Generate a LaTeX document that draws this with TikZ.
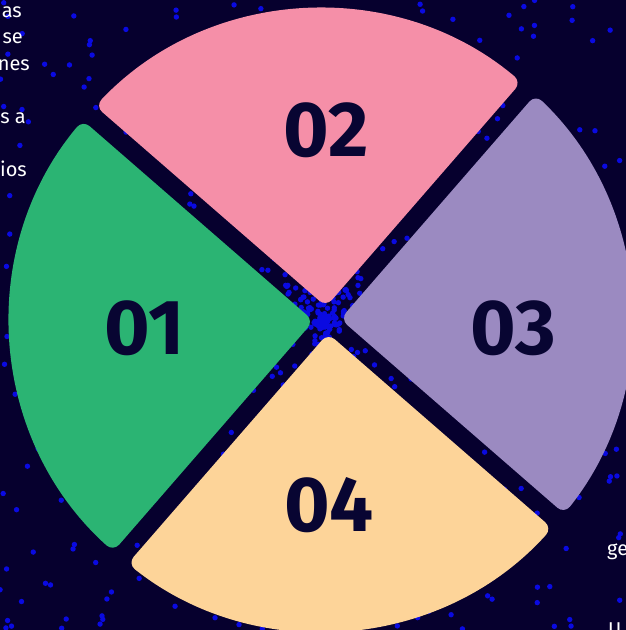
\documentclass[tikz,border=0pt]{standalone}
\usepackage{fontspec}
\setmainfont{Fira Sans}
\usetikzlibrary{calc}
\definecolor{bgc}{RGB}{6,0,46}
\definecolor{dotc}{RGB}{10,10,225}
\definecolor{greenc}{RGB}{43,180,115}
\definecolor{pinkc}{RGB}{245,143,168}
\definecolor{purplec}{RGB}{155,138,193}
\definecolor{yellowc}{RGB}{253,212,153}
\definecolor{numc}{RGB}{8,5,50}
\def\sOx{321}\def\sOy{310}\def\sR{311}
\def\sCx{327}\def\sCy{310}\def\sOff{13.4}
\newcommand\sectorfill[2]{%
 \pgfmathsetmacro\sAx{\sCx+\sOff*cos(#1)}%
 \pgfmathsetmacro\sAy{\sCy+\sOff*sin(#1)}%
 \pgfmathsetmacro\sDx{\sAx-\sOx}%
 \pgfmathsetmacro\sDy{\sAy-\sOy}%
 \pgfmathsetmacro\sDD{\sDx*\sDx+\sDy*\sDy}%
 \pgfmathsetmacro\sBa{\sDx*cos(#1-45)+\sDy*sin(#1-45)}%
 \pgfmathsetmacro\sTa{-\sBa+\sR*sqrt(1+(\sBa*\sBa-\sDD)/\sR/\sR)}%
 \pgfmathsetmacro\sAngA{atan2(\sAy+\sTa*sin(#1-45)-\sOy,\sAx+\sTa*cos(#1-45)-\sOx)}%
 \pgfmathsetmacro\sBb{\sDx*cos(#1+45)+\sDy*sin(#1+45)}%
 \pgfmathsetmacro\sTb{-\sBb+\sR*sqrt(1+(\sBb*\sBb-\sDD)/\sR/\sR)}%
 \pgfmathsetmacro\sAngB{atan2(\sAy+\sTb*sin(#1+45)-\sOy,\sAx+\sTb*cos(#1+45)-\sOx)}%
 \pgfmathsetmacro\sAngB{\sAngB<\sAngA ? \sAngB+360 : \sAngB}%
 \fill[#2,rounded corners=9pt] (\sAx,\sAy) -- ($(\sOx,\sOy)+(\sAngA:\sR pt)$)
   arc[start angle=\sAngA,end angle=\sAngB,radius=\sR pt] -- cycle;
}
\tikzset{
  numlabel/.style={text=numc,inner sep=0pt,font=\fontsize{78}{78}\selectfont\bfseries},
  sidetext/.style={text=white,inner sep=0pt,font=\fontsize{20}{24}\selectfont},
  dot/.style={fill=dotc}
}
\begin{document}
\begin{tikzpicture}[x=1pt,y=1pt]
\useasboundingbox (0,0) rectangle (626,630);
\fill[bgc] (0,0) rectangle (626,630);
\pgfmathsetseed{11}
\foreach \i in {1,...,400}{
  \pgfmathsetmacro\px{rnd*626}
  \pgfmathsetmacro\py{rnd*630}
  \fill[dot] (\px,\py) circle[radius=2.7pt];
}
\coordinate (C) at (\sCx,\sCy);
\foreach \i in {1,...,260}{
  \pgfmathsetmacro\rr{110*rnd^1.6}
  \pgfmathsetmacro\aa{rnd*360}
  \fill[dot] ($(C)+(\aa:\rr pt)$) circle[radius=2.7pt];
}
\sectorfill{94}{pinkc}
\sectorfill{184}{greenc}
\sectorfill{274}{yellowc}
\sectorfill{4}{purplec}
\node[numlabel] (n02) at (326,500) {02};
\node[numlabel] (n01) at (145,302) {01};
\node[numlabel] (n03) at (513,302) {03};
\node[numlabel] (n04) at (329,125) {04};
\node[sidetext,anchor=base east] (t1) at (22,612) {as};
\node[sidetext,anchor=base east] (t2) at (23,586) {se};
\node[sidetext,anchor=base east] (t3) at (30,559) {nes};
\node[sidetext,anchor=base east] (t4) at (26,506) {s a};
\node[sidetext,anchor=base east] (t5) at (27,453) {ios};
\node[sidetext,anchor=base west] (t6) at (607,74) {ge};
\node[sidetext,anchor=base west] (t7) at (608,-6) {U};
\end{tikzpicture}
\end{document}
